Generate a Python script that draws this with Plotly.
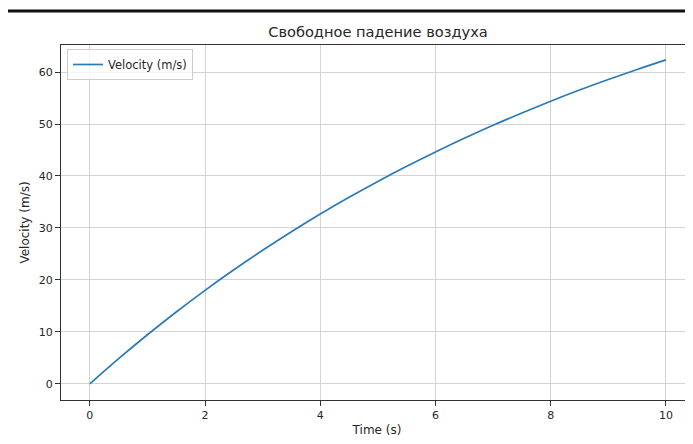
import plotly.graph_objects as go

time_s = [0, 0.5, 1, 1.5, 2, 2.5, 3, 3.5, 4, 4.5, 5, 5.5, 6, 6.5, 7, 7.5, 8, 8.5, 9, 9.5, 10]
velocity = [0, 4.85, 9.45, 13.83, 18.0, 21.95, 25.7, 29.27, 32.67, 35.89, 38.95, 41.86, 44.63,
            47.26, 49.76, 52.12, 54.39, 56.53, 58.56, 60.5, 62.34]
x_ticks = [0, 2, 4, 6, 8, 10]
y_ticks = [0, 10, 20, 30, 40, 50, 60]

title_text = "Свободное падение воздуха"
series_name = "Velocity (m/s)"

FONT = "DejaVu Sans"
W, H = 685, 436
L, T, B = 53, 37, 44
PW = W - L
PH = H - T - B

fig = go.Figure()
fig.add_trace(go.Scatter(
    x=time_s, y=velocity, mode="lines", name=series_name,
    line=dict(color="#2a7ab8", width=1.7, shape="spline"),
))

fig.update_layout(
    width=W, height=H,
    margin=dict(l=L, r=0, t=T, b=B, autoexpand=False),
    paper_bgcolor="white", plot_bgcolor="white",
    font=dict(family=FONT, size=11, color="#262626"),
    title=dict(text=title_text, x=(L + PW / 2 + 1) / W, xanchor="center",
               y=1 - 24 / H, yanchor="middle",
               font=dict(family=FONT, size=14.6, color="#262626")),
    showlegend=True,
    legend=dict(x=6 / PW, y=1 - 4 / PH, xanchor="left", yanchor="top",
                bgcolor="rgba(255,255,255,0.8)", bordercolor="#cccccc", borderwidth=1,
                font=dict(family=FONT, size=11.5, color="#262626"),
                itemwidth=30, tracegroupgap=0),
    xaxis=dict(
        range=[-0.5, 10.47], tickvals=x_ticks, ticktext=[str(v) for v in x_ticks],
        tickfont=dict(family=FONT, size=11, color="#262626"),
        showgrid=True, gridcolor="#d3d3d3", gridwidth=1,
        zeroline=False, showline=True, linecolor="#333333", linewidth=1, mirror=True,
        ticks="outside", ticklen=5, tickcolor="#333333",
        title=dict(text="Time (s)", font=dict(family=FONT, size=12, color="#262626"), standoff=4),
    ),
    yaxis=dict(
        range=[-3.1, 65.2], tickvals=y_ticks, ticktext=[str(v) for v in y_ticks],
        tickfont=dict(family=FONT, size=11, color="#262626"),
        showgrid=True, gridcolor="#d3d3d3", gridwidth=1,
        zeroline=False, showline=True, linecolor="#333333", linewidth=1, mirror=False,
        ticks="outside", ticklen=5, tickcolor="#333333",
        title=dict(text="Velocity (m/s)", font=dict(family=FONT, size=12, color="#262626"), standoff=6),
    ),
)

# dark rule across the top of the image
fig.add_shape(type="line", xref="paper", yref="paper",
              x0=-L / PW, x1=1.0, y0=1 + (T - 3) / PH, y1=1 + (T - 3) / PH,
              line=dict(color="#111111", width=3))

fig.write_html("out.html")
